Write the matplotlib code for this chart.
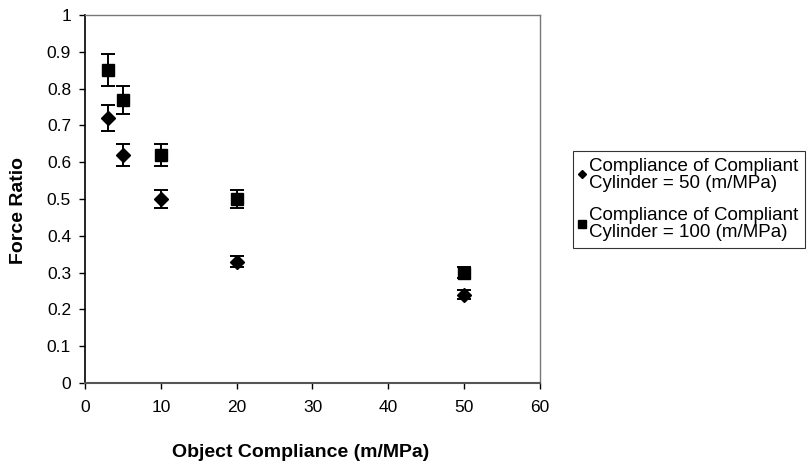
import numpy as np
import matplotlib.pyplot as plt

plt.rcParams['font.family'] = ['Liberation Sans', 'DejaVu Sans']

compliance = [3, 5, 10, 20, 50]
ratio_50 = [0.72, 0.62, 0.50, 0.33, 0.24]
err_50 = [0.036, 0.030, 0.024, 0.015, 0.012]
ratio_100 = [0.85, 0.77, 0.62, 0.50, 0.30]
err_100 = [0.044, 0.038, 0.030, 0.025, 0.015]

labels = ['Compliance of Compliant\nCylinder = 50 (m/MPa)',
          'Compliance of Compliant\nCylinder = 100 (m/MPa)']

fig = plt.figure(figsize=(8.08, 4.72), dpi=100)
ax = fig.add_axes([85/808, 1 - 383/472, (540-85)/808, (383-15)/472])

ax.errorbar(compliance, ratio_50, yerr=err_50, fmt='none', ecolor='black',
            elinewidth=1.4, capsize=5, capthick=1.4)
ax.errorbar(compliance, ratio_100, yerr=err_100, fmt='none', ecolor='black',
            elinewidth=1.4, capsize=5, capthick=1.4)
h1, = ax.plot(compliance, ratio_50, 'D', color='black', markersize=7.5, linestyle='none')
h2, = ax.plot(compliance, ratio_100, 's', color='black', markersize=9, linestyle='none')

ax.set_xlim(0, 60)
ax.set_ylim(0, 1)
ax.set_xticks(np.arange(0, 61, 10))
ax.set_yticks(np.arange(0, 1.01, 0.1))
ax.set_yticklabels(['0', '0.1', '0.2', '0.3', '0.4', '0.5', '0.6', '0.7', '0.8', '0.9', '1'])
ax.tick_params(direction='out', length=4, labelsize=12.5, width=1)
ax.tick_params(axis='y', pad=6)
ax.tick_params(axis='x', pad=8)

for side in ['top', 'right']:
    ax.spines[side].set_linestyle((0, (2, 1)))
    ax.spines[side].set_color('#777777')
    ax.spines[side].set_linewidth(1)
ax.spines['left'].set_linewidth(1.2)
ax.spines['bottom'].set_color('#555555')
ax.spines['bottom'].set_linewidth(1.5)

ax.set_xlabel('Object Compliance (m/MPa)', fontsize=14, fontweight='bold')
ax.set_ylabel('Force Ratio', fontsize=14, fontweight='bold')
ax.xaxis.set_label_coords(0.473, -0.166)
ax.yaxis.set_label_coords(-0.127, 0.47)

leg = fig.legend([h1, h2], labels, loc='upper left', bbox_to_anchor=(573/808, 1 - 151/472),
                 bbox_transform=fig.transFigure, fontsize=13.5, frameon=True, fancybox=False,
                 edgecolor='black', handlelength=0.3, handletextpad=0.2, borderpad=0.35,
                 borderaxespad=0, markerscale=0.6, labelspacing=0.85)
leg.get_frame().set_linewidth(0.8)
for t in leg.get_texts():
    t.set_linespacing(1.0)

plt.savefig('out.png', dpi=100)
